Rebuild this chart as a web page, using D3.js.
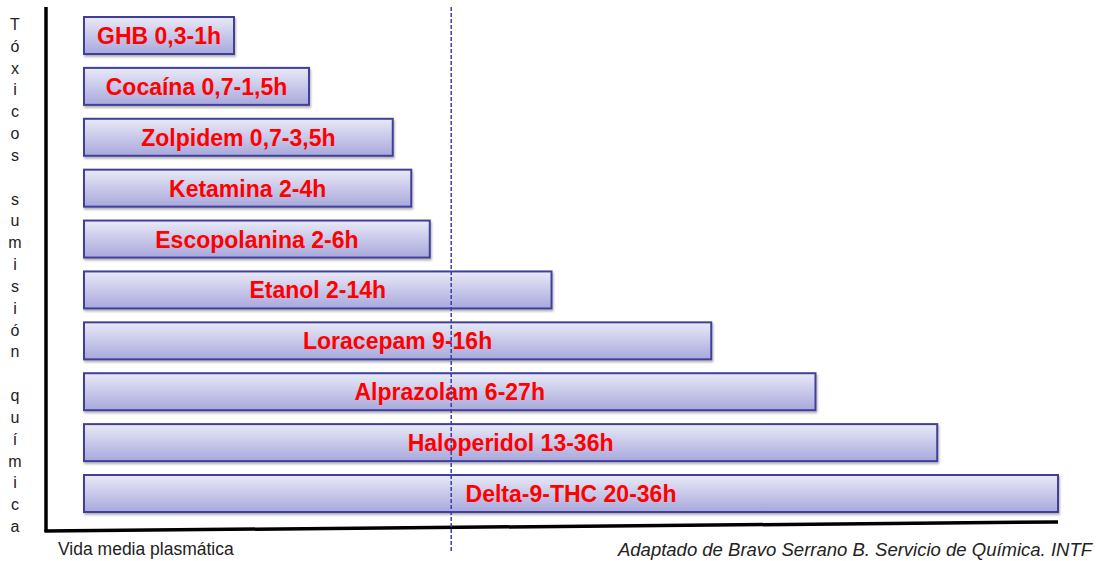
<!DOCTYPE html>
<html>
<head>
<meta charset="utf-8">
<script src="https://cdn.jsdelivr.net/npm/d3@7"></script>
<style>
  html, body { margin: 0; padding: 0; background: #fff; }
  svg { display: block; font-family: "Liberation Sans", Arial, sans-serif; }
</style>
</head>
<body>
<div id="viz"></div>
<script>
// drugs, top to bottom
var drugs = ["GHB", "Cocaína", "Zolpidem", "Ketamina", "Escopolanina", "Etanol",
             "Loracepam", "Alprazolam", "Haloperidol", "Delta-9-THC"];
var halfLife = ["0,3-1h", "0,7-1,5h", "0,7-3,5h", "2-4h", "2-6h", "2-14h",
                "9-16h", "6-27h", "13-36h", "20-36h"];
// bar length, relative (longest = 100)
var barLength = [15.4, 23.1, 31.7, 33.6, 35.5, 48.0, 64.4, 75.1, 87.6, 100];
var yTitle = "Tóxicos sumisión química";
var xTitle = "Vida media plasmática";
var source = "Adaptado de Bravo Serrano B. Servicio de Química. INTF";
var markerValue = 37.7; // dashed reference line

var width = 1097, height = 561;
var barLeft = 84, barRight = 1058;
var axisX = 46, axisTop = 7;

var svg = d3.select("#viz").append("svg")
  .attr("width", width)
  .attr("height", height);

var defs = svg.append("defs");
var grad = defs.append("linearGradient")
  .attr("id", "barGrad")
  .attr("x1", 0).attr("y1", 0).attr("x2", 0).attr("y2", 1);
grad.append("stop").attr("offset", "0%").attr("stop-color", "#e9e9f7");
grad.append("stop").attr("offset", "100%").attr("stop-color", "#a8a8dc");

var shadow = defs.append("filter").attr("id", "shadow")
  .attr("x", "-5%").attr("y", "-20%").attr("width", "110%").attr("height", "150%");
shadow.append("feDropShadow")
  .attr("dx", 1).attr("dy", 2).attr("stdDeviation", 1.2)
  .attr("flood-color", "#000").attr("flood-opacity", 0.3);

var x = d3.scaleLinear().domain([0, 100]).range([barLeft, barRight]);
var y = d3.scaleBand().domain(drugs).range([17, 512]).paddingInner(0.273).paddingOuter(0);

var rows = drugs.map(function(d, i) {
  return { name: d, label: d + " " + halfLife[i], len: barLength[i] };
});

// bars
svg.selectAll(".bar")
  .data(rows)
  .enter()
  .append("rect")
  .attr("class", "bar")
  .attr("x", x(0))
  .attr("y", function(d) { return y(d.name); })
  .attr("width", function(d) { return x(d.len) - x(0); })
  .attr("height", y.bandwidth())
  .style("fill", "url(#barGrad)")
  .style("stroke", "#41419a")
  .style("stroke-width", 2)
  .attr("filter", "url(#shadow)");

svg.selectAll(".barLabel")
  .data(rows)
  .enter()
  .append("text")
  .attr("class", "barLabel")
  .attr("x", function(d) { return (x(0) + x(d.len)) / 2; })
  .attr("y", function(d) { return y(d.name) + y.bandwidth() / 2 + 8.5; })
  .attr("text-anchor", "middle")
  .style("font-size", "23px")
  .style("font-weight", "bold")
  .style("fill", "#ff0000")
  .text(function(d) { return d.label; });

// axes (hand-drawn look: bottom line slopes slightly)
svg.append("line")
  .attr("x1", axisX).attr("y1", axisTop)
  .attr("x2", axisX).attr("y2", 532)
  .style("stroke", "#000").style("stroke-width", 3.5);
svg.append("line")
  .attr("x1", axisX - 1.5).attr("y1", 531)
  .attr("x2", x(100)).attr("y2", 522)
  .style("stroke", "#000").style("stroke-width", 3.5);

// dashed reference line
svg.append("line")
  .attr("x1", x(markerValue)).attr("y1", axisTop)
  .attr("x2", x(markerValue)).attr("y2", 552)
  .style("stroke", "#3b3bb0")
  .style("stroke-width", 1.5)
  .style("stroke-dasharray", "4,2");

// vertical letter-by-letter title
svg.append("g").selectAll("text")
  .data(yTitle.split(""))
  .enter()
  .append("text")
  .attr("x", 15)
  .attr("y", function(d, i) { return 30 + i * 21.83; })
  .attr("text-anchor", "middle")
  .style("font-size", "16px")
  .style("fill", "#222")
  .text(function(d) { return d; });

svg.append("text")
  .attr("x", 58).attr("y", 555)
  .style("font-size", "17.5px")
  .style("fill", "#222")
  .text(xTitle);

svg.append("text")
  .attr("x", 1092).attr("y", 556)
  .attr("text-anchor", "end")
  .style("font-size", "18.5px")
  .style("font-style", "italic")
  .style("fill", "#222")
  .text(source);
</script>
</body>
</html>
